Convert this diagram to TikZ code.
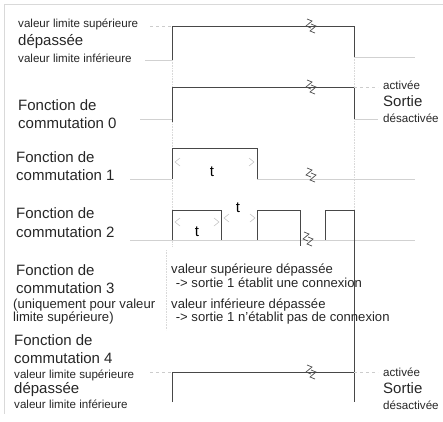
\documentclass[tikz,border=0pt]{standalone}
\usepackage{fontspec}
\setmainfont{Liberation Sans}
\usetikzlibrary{arrows}

\newcommand{\petit}{\fontsize{11.6}{13}\selectfont}
\newcommand{\moyen}{\fontsize{13.1}{15}\selectfont}
\newcommand{\grand}{\fontsize{15}{17}\selectfont}

\begin{document}
\begin{tikzpicture}[x=1pt, y=-1pt,
    sig/.style={draw=black!72, line width=0.9pt},
    base/.style={draw=black!18, line width=0.8pt},
    niveau/.style={draw=black!20, dashed, line width=0.6pt},
    guide/.style={draw=black!15, densely dotted, line width=0.6pt},
    txt/.style={anchor=west, inner sep=0pt, text=black!85},
    cote/.style={draw=black!25, line width=0.5pt},
    brk/.pic={\draw[black!70, line width=0.7pt] (-3,-8) -- (2,-6) -- (-4,-1) -- (1,1);
              \draw[black!70, line width=0.7pt] (1,-3) -- (6,-1) -- (0,4) -- (5,6);},
    chg/.pic={\draw[cote] (5,-4) -- (0,0) -- (5,4);},
    chd/.pic={\draw[cote] (-5,-4) -- (0,0) -- (-5,4);}]
  \useasboundingbox (0,0) rectangle (443,421);
  % cadre
  \draw[black!15] (443,4) -- (4,4) -- (4,414);

  % lignes de repere
  \draw[guide] (172,60) -- (172,246);
  \draw[guide] (354,57) -- (354,211);
  \draw[guide] (166,250) -- (166,330);

  % valeur limite (haut)
  \node[txt] (vls1) at (18,24) {\petit valeur limite supérieure};
  \node[txt] (dep1) at (18,42) {\grand dépassée};
  \node[txt] (vli1) at (18,58) {\petit valeur limite inférieure};
  \draw[niveau] (150,26) -- (172,26);
  \draw[base] (145,60) -- (172,60);
  \draw[sig] (172,60) -- (172,26) -- (354,26) -- (354,57);
  \draw[base] (354,57) -- (415,57);
  \pic at (310,27) {brk};

  % fonction 0
  \node[txt] (f0a) at (18,105) {\grand Fonction de};
  \node[txt] (f0b) at (18,123) {\grand commutation 0};
  \draw[base] (140,119) -- (172,119);
  \draw[sig] (172,122) -- (172,87) -- (354,87) -- (354,119);
  \draw[niveau] (354,87) -- (378,87);
  \draw[base] (354,119) -- (378,119);
  \pic at (310,88) {brk};
  \node[txt] (act1) at (383,85) {\petit activée};
  \node[txt] (sor1) at (383,101) {\grand Sortie};
  \node[txt] (des1) at (383,118) {\petit désactivée};

  % fonction 1
  \node[txt] (f1a) at (16,157) {\grand Fonction de};
  \node[txt] (f1b) at (16,175) {\grand commutation 1};
  \draw[base] (130,179) -- (172,179);
  \draw[sig] (172,179) -- (172,148) -- (257,148) -- (257,179);
  \draw[base] (257,179) -- (415,179);
  \pic at (310,176) {brk};
  \pic at (175,162) {chg};
  \pic at (254,162) {chd};
  \node (t1) at (212,172) {\grand t};

  % fonction 2
  \node[txt] (f2a) at (16,213) {\grand Fonction de};
  \node[txt] (f2b) at (16,232) {\grand commutation 2};
  \draw[base] (130,240) -- (415,240);
  \draw[sig] (172,240) -- (172,210) -- (221,210) -- (221,240);
  \draw[sig] (257,240) -- (257,210) -- (300,210) -- (300,246);
  \draw[sig] (325,240) -- (325,210) -- (354,210) -- (354,402);
  \pic at (307,240) {brk};
  \pic at (175,222) {chg};
  \pic at (219,222) {chd};
  \pic at (224,218) {chg};
  \pic at (255,218) {chd};
  \node (t2) at (197,232) {\grand t};
  \node (t3) at (238,208) {\grand t};

  % fonction 3
  \node[txt] (f3a) at (16,270) {\grand Fonction de};
  \node[txt] (f3b) at (16,288) {\grand commutation 3};
  \node[txt] (f3c) at (13,305) {\moyen (uniquement pour valeur};
  \node[txt] (f3d) at (13,318) {\moyen limite supérieure)};
  \node[txt] (sup) at (171,270) {\moyen valeur supérieure dépassée};
  \node[txt] (con) at (172,283) {\moyen\ -> sortie 1 établit une connexion};
  \node[txt] (inf) at (171,305) {\moyen valeur inférieure dépassée};
  \node[txt] (nco) at (172,318) {\moyen\ -> sortie 1 n'établit pas de connexion};

  % fonction 4
  \node[txt] (f4a) at (14,340) {\grand Fonction de};
  \node[txt] (f4b) at (14,358) {\grand commutation 4};
  \node[txt] (vls4) at (14,375) {\petit valeur limite supérieure};
  \node[txt] (dep4) at (14,390) {\grand dépassée};
  \node[txt] (vli4) at (14,404) {\petit valeur limite inférieure};
  \draw[niveau] (150,372) -- (172,372);
  \draw[sig] (172,402) -- (172,372) -- (354,372);
  \draw[niveau] (354,372) -- (378,372);
  \pic at (310,373) {brk};
  \node[txt] (act4) at (383,372) {\petit activée};
  \node[txt] (sor4) at (383,388) {\grand Sortie};
  \node[txt] (des4) at (383,405) {\petit désactivée};
\end{tikzpicture}
\end{document}
